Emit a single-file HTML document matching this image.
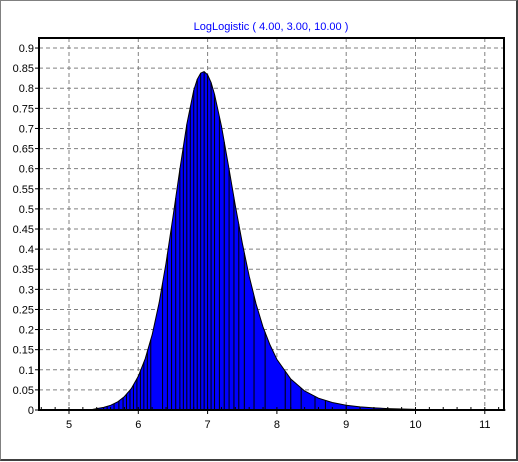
<!DOCTYPE html>
<html><head><meta charset="utf-8"><style>
html,body{margin:0;padding:0;background:#fff}
#wrap{position:relative;width:518px;height:461px;box-sizing:border-box;border:1px solid #808080;border-right:2px solid #404040;border-bottom:2px solid #404040;background:#fff}
svg{position:absolute;left:0;top:0}
text{font-family:"Liberation Sans",sans-serif;font-size:11px}
</style></head><body>
<div id="wrap">
<svg id="chart" width="518" height="461"></svg>
</div>
<script>
const xs=[4.6,5.3,5.4,5.5,5.6,5.7,5.8,5.9,6.0,6.1,6.2,6.3,6.4,6.5,6.6,6.7,6.8,6.85,6.9,6.95,7.0,7.05,7.1,7.2,7.3,7.4,7.5,7.6,7.7,7.8,7.9,8.0,8.2,8.4,8.6,8.8,9.0,9.2,9.4,9.6,10.0,11.3];
const ys=[0,0,0.0035,0.0065,0.0116,0.0199,0.0332,0.0535,0.0838,0.1272,0.1871,0.2664,0.3648,0.4788,0.599,0.710,0.7945,0.822,0.8377,0.8414,0.8333,0.814,0.7852,0.7052,0.6085,0.5087,0.415,0.3327,0.2635,0.2067,0.1619,0.1259,0.077,0.0473,0.0294,0.0186,0.0119,0.0078,0.0052,0.0035,0.0016,0];
const binEdges=[5.4,5.5,5.55,5.65,5.72,5.78,5.83,5.88,5.93,5.98,6.03,6.08,6.13,6.18,6.35,6.42,6.48,6.54,6.6,6.65,6.7,6.75,6.8,6.85,6.9,6.95,7.0,7.05,7.1,7.17,7.24,7.31,7.38,7.45,7.53,7.67,7.83,8.12,8.2,8.35,8.55,8.7,9.0,9.2];
const xTicks=[5,6,7,8,9,10,11];
const yTicks=[0,0.05,0.1,0.15,0.2,0.25,0.3,0.35,0.4,0.45,0.5,0.55,0.6,0.65,0.7,0.75,0.8,0.85,0.9];
const L=38,R=503,T=37,B=409;
const X=v=>68+(v-5)*69.3;
const Y=v=>B-v*402.2;
const svg=document.getElementById('chart');
const NS='http://www.w3.org/2000/svg';
function mk(t,a){const e=document.createElementNS(NS,t);for(const k in a)e.setAttribute(k,a[k]);svg.appendChild(e);return e;}
function interp(v){for(let i=0;i<xs.length-1;i++){if(v>=xs[i]&&v<=xs[i+1]){return ys[i]+(ys[i+1]-ys[i])*(v-xs[i])/(xs[i+1]-xs[i]);}}return 0;}
let t=mk('text',{x:270,y:29,fill:'#0000ff','text-anchor':'middle'});t.textContent='LogLogistic ( 4.00, 3.00, 10.00 )';


xTicks.forEach(v=>{const g=mk('line',{x1:X(v),x2:X(v),y1:T,y2:B,stroke:'#808080','stroke-dasharray':'4,3'});

});
yTicks.forEach(v=>{if(v===0)return;const g=mk('line',{x1:L,x2:R,y1:Y(v),y2:Y(v),stroke:'#808080','stroke-dasharray':'4,3'});

});
let pts=xs.map((x,i)=>X(Math.max(x,4.567)).toFixed(1)+','+Y(ys[i]).toFixed(1)).join(' ');
const area=mk('polygon',{points:pts+' '+X(11.29)+','+B+' '+L+','+B,fill:'#0000ff',stroke:'#000','stroke-width':1});


binEdges.forEach(v=>{const l=mk('line',{x1:X(v),x2:X(v),y1:B,y2:Y(interp(v)),stroke:'#000','stroke-width':1});

});
const f=mk('rect',{x:L,y:T,width:R-L,height:B-T,fill:'none',stroke:'#000','stroke-width':2});


for(let v=4.6;v<=11.3;v+=0.2){const m=mk('line',{x1:X(v),x2:X(v),y1:B-3,y2:B,stroke:'#000'});

}
xTicks.forEach(v=>{const tk=mk('line',{x1:X(v),x2:X(v),y1:B,y2:B+4,stroke:'#000'});


const tx=mk('text',{x:X(v),y:427,'text-anchor':'middle',fill:'#000'});tx.textContent=v;

});
yTicks.forEach(v=>{const tk=mk('line',{x1:L-4,x2:L,y1:Y(v),y2:Y(v),stroke:'#000'});


const tx=mk('text',{x:L-5,y:Y(v)+4,'text-anchor':'end',fill:'#000'});tx.textContent=String(v);

});
</script>
</body></html>
